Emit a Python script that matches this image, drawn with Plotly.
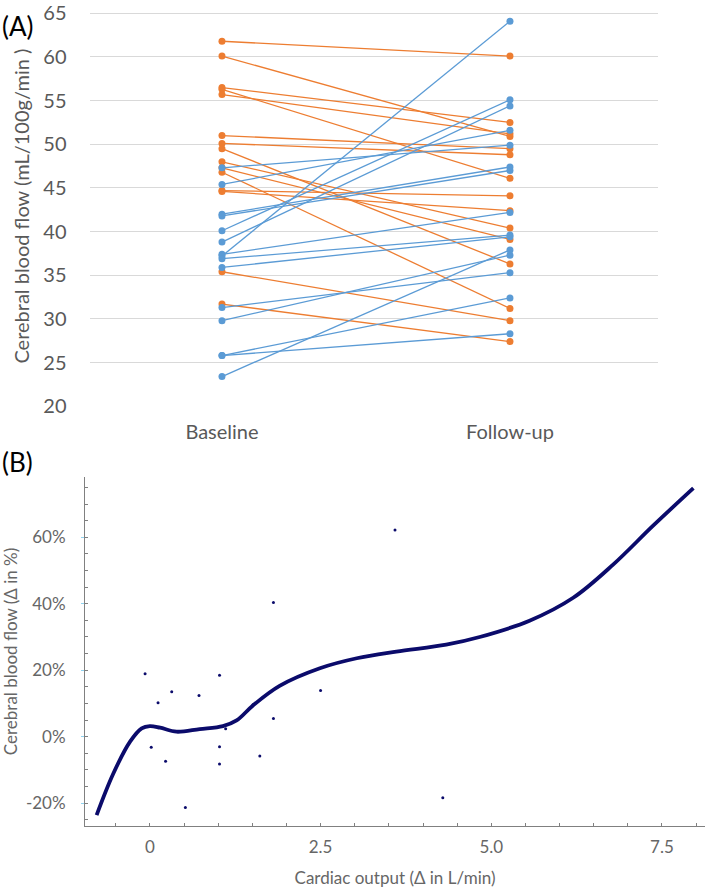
import plotly.graph_objects as go

# ---------------- Panel A data ----------------
categories = ["Baseline", "Follow-up"]
# decreasing subjects (orange)
orange_baseline = [61.8, 60.1, 56.5, 56.3, 55.7, 51.0, 50.1, 49.5, 48.0, 47.3, 46.8, 44.7, 44.6, 35.4, 31.7]
orange_followup = [60.1, 50.9, 52.5, 46.1, 51.2, 49.5, 48.8, 36.3, 40.4, 39.1, 31.2, 44.1, 42.4, 29.8, 27.4]
# increasing subjects (blue)
blue_baseline = [47.3, 45.4, 42.0, 41.8, 40.1, 38.8, 37.4, 37.2, 36.9, 35.9, 31.3, 29.8, 25.8, 25.8, 23.4]
blue_followup = [49.9, 51.6, 47.4, 47.0, 55.1, 54.4, 42.2, 64.1, 39.6, 39.4, 35.3, 37.3, 32.4, 28.3, 37.9]
a_yticks = [20, 25, 30, 35, 40, 45, 50, 55, 60, 65]

# ---------------- Panel B data ----------------
co_change = [-0.07, 0.12, 0.32, 0.72, 1.02, 1.51, 1.11, 1.81, 1.81, 2.50, 3.59,
             0.02, 0.23, 1.02, 1.02, 1.61, 0.52, 4.29]
cbf_change = [18.9, 10.2, 13.5, 12.4, 18.5, 9.6, 2.4, 5.5, 40.4, 13.9, 62.2,
              -3.2, -7.4, -3.0, -8.2, -5.8, -21.3, -18.4]
fit_x = [-0.78, -0.54, -0.29, -0.12, 0.0, 0.15, 0.39, 0.73, 1.07, 1.27, 1.51, 1.90,
         2.49, 3.03, 3.61, 4.34, 4.83, 5.56, 6.20, 6.78, 7.37, 7.96]
fit_y = [-23.6, -11.3, -1.5, 2.5, 3.2, 2.7, 1.5, 2.3, 3.2, 4.9, 9.4, 15.3,
         20.6, 23.6, 25.6, 27.7, 30.0, 34.9, 41.8, 51.7, 63.5, 74.8]
b_xticks = [0, 2.5, 5.0, 7.5]
b_xticktext = ["0", "2.5", "5.0", "7.5"]
b_yticks = [-20, 0, 20, 40, 60]
b_yticktext = ["-20%", "0%", "20%", "40%", "60%"]

ORANGE = "#ED7D31"
BLUE = "#5B9BD5"
NAVY = "#0B0B6B"
FONT = "Lato"
GRAY = "#595959"
GRAY_B = "#666666"

fig = go.Figure()

for b, f in zip(orange_baseline, orange_followup):
    fig.add_trace(go.Scatter(x=categories, y=[b, f], mode="lines+markers",
                             line=dict(color=ORANGE, width=1.3),
                             marker=dict(color=ORANGE, size=7),
                             xaxis="x", yaxis="y", showlegend=False))
for b, f in zip(blue_baseline, blue_followup):
    fig.add_trace(go.Scatter(x=categories, y=[b, f], mode="lines+markers",
                             line=dict(color=BLUE, width=1.3),
                             marker=dict(color=BLUE, size=7),
                             xaxis="x", yaxis="y", showlegend=False))

fig.add_trace(go.Scatter(x=fit_x, y=fit_y, mode="lines",
                         line=dict(color=NAVY, width=3.8, shape="spline", smoothing=1.0),
                         xaxis="x2", yaxis="y2", showlegend=False))
fig.add_trace(go.Scatter(x=co_change, y=cbf_change, mode="markers",
                         marker=dict(color=NAVY, size=3),
                         xaxis="x2", yaxis="y2", showlegend=False))

W, H = 709, 891
def dx(a, b):
    return [a / W, b / W]
def dy(top, bot):
    return [1 - bot / H, 1 - top / H]

fig.update_layout(
    width=W, height=H,
    margin=dict(l=0, r=0, t=0, b=0),
    paper_bgcolor="white", plot_bgcolor="white",
    font=dict(family=FONT, color=GRAY),
    xaxis=dict(domain=dx(89.5, 658), type="category", range=[-0.46, 1.514],
               showgrid=False, zeroline=False, showline=False, ticks="",
               ticklabelstandoff=12,
               tickfont=dict(size=20, color=GRAY, family=FONT), anchor="y"),
    yaxis=dict(domain=dy(0, 408), range=[20, 65.84], tickvals=a_yticks,
               showgrid=True, gridcolor="#D9D9D9", gridwidth=1, zeroline=False,
               showline=False, ticks="", ticklabelstandoff=22,
               ticklabeloverflow="allow",
               tickfont=dict(size=20, color=GRAY, family=FONT), anchor="x",
               title=dict(text="Cerebral blood flow (mL/100g/min )",
                          font=dict(size=20, color=GRAY, family=FONT), standoff=8)),
    xaxis2=dict(domain=dx(85, 705), range=[-0.95, 8.13], tickvals=b_xticks,
                ticktext=b_xticktext, showgrid=False, zeroline=False,
                showline=True, linecolor="#808080", linewidth=1,
                ticks="inside", ticklen=3, tickcolor="#808080",
                minor=dict(dtick=0.5, tick0=0, ticks="inside", ticklen=3, tickcolor="#808080"),
                ticklabelstandoff=6,
                tickfont=dict(size=17, color=GRAY_B, family=FONT), anchor="y2",
                title=dict(text="Cardiac output (Δ in L/min)",
                           font=dict(size=17, color=GRAY_B, family=FONT), standoff=15)),
    yaxis2=dict(domain=dy(480, 836), range=[-26.9, 78.2], tickvals=b_yticks,
                ticktext=b_yticktext, showgrid=False, zeroline=False,
                showline=True, linecolor="#808080", linewidth=1,
                ticks="outside", ticklen=3, tickcolor="#8FD3F0",
                minor=dict(dtick=5, tick0=0, ticks="inside", ticklen=3, tickcolor="#808080"),
                ticklabelstandoff=12,
                tickfont=dict(size=17, color=GRAY_B, family=FONT), anchor="x2",
                title=dict(text="Cerebral blood flow (Δ in %)",
                           font=dict(size=17, color=GRAY_B, family=FONT), standoff=6)),
    annotations=[
        dict(text="(A)", x=0, y=1 - 20 / H, xref="paper", yref="paper",
             xanchor="left", yanchor="middle", showarrow=False,
             font=dict(size=26, color="black", family=FONT)),
        dict(text="(B)", x=0, y=1 - 465 / H, xref="paper", yref="paper",
             xanchor="left", yanchor="middle", showarrow=False,
             font=dict(size=26, color="black", family=FONT)),
    ],
)

fig.write_html("out.html", config={"displayModeBar": False},
               post_script="document.body.style.margin='0';")
